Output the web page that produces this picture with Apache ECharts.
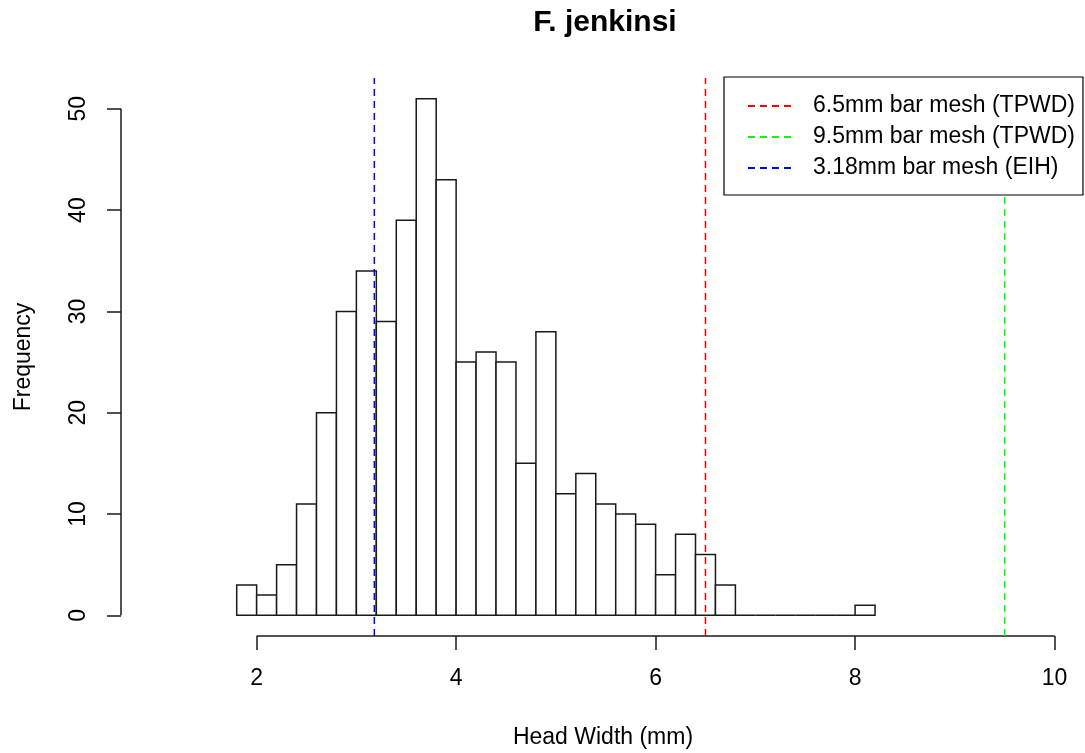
<!DOCTYPE html>
<html>
<head>
<meta charset="utf-8">
<script src="https://cdn.jsdelivr.net/npm/echarts@6/dist/echarts.min.js"></script>
<style>
html,body{margin:0;padding:0;background:#fff;}
#chart{width:1085px;height:753px;}
</style>
</head>
<body>
<div id="chart"></div>
<script>
// ---- data ----
const binEdges = [1.8, 2.0, 2.2, 2.4, 2.6, 2.8, 3.0, 3.2, 3.4, 3.6, 3.8, 4.0, 4.2, 4.4, 4.6, 4.8, 5.0,
                  5.2, 5.4, 5.6, 5.8, 6.0, 6.2, 6.4, 6.6, 6.8, 7.0, 7.2, 7.4, 7.6, 7.8, 8.0, 8.2];
const counts = [3, 2, 5, 11, 20, 30, 34, 29, 39, 51, 43, 25, 26, 25, 15, 28,
                12, 14, 11, 10, 9, 4, 8, 6, 3, 0, 0, 0, 0, 0, 0, 1];
const xTicks = [2, 4, 6, 8, 10];
const yTicks = [0, 10, 20, 30, 40, 50];
const meshNames = ['6.5mm bar mesh (TPWD)', '9.5mm bar mesh (TPWD)', '3.18mm bar mesh (EIH)'];
const meshSizes = [6.5, 9.5, 3.18];
const meshColors = ['#ff0000', '#00ff00', '#0000ff'];

// axis limits (R-style extension; right side cut at the picture edge)
const xMin = 0.64, xMax = 10.305;
const yMin = -2.04, yMax = 53.04;

const FONT = "'Liberation Sans', Arial, sans-serif";
const INK = '#1a1a1a';

const histData = counts.map((c, i) => [binEdges[i], binEdges[i + 1], c]);

const series = [
  {
    type: 'custom',
    name: 'hist',
    silent: true,
    clip: false,
    encode: { x: [0, 1], y: 2 },
    data: histData,
    renderItem: function (params, api) {
      const p0 = api.coord([api.value(0), 0]);
      const p1 = api.coord([api.value(1), api.value(2)]);
      return {
        type: 'rect',
        shape: { x: p0[0], y: p1[1], width: p1[0] - p0[0], height: p0[1] - p1[1] },
        style: { fill: '#ffffff', stroke: INK, lineWidth: 1.5 }
      };
    }
  },
  // R-style axis lines spanning only the tick range
  {
    type: 'line', name: 'xaxisline', silent: true, clip: false, symbol: 'none',
    data: [[xTicks[0], yMin], [xTicks[xTicks.length - 1], yMin]],
    lineStyle: { color: INK, width: 1.5 }
  },
  {
    type: 'line', name: 'yaxisline', silent: true, clip: false, symbol: 'none',
    data: [[xMin, yTicks[0]], [xMin, yTicks[yTicks.length - 1]]],
    lineStyle: { color: INK, width: 1.5 }
  }
];
meshSizes.forEach((m, i) => {
  series.push({
    type: 'line', name: meshNames[i], silent: true, clip: false, symbol: 'none',
    data: [[m, yMin], [m, yMax]],
    lineStyle: { color: meshColors[i], width: 1.5, type: [7, 5] },
    itemStyle: { color: meshColors[i] }
  });
});

const chart = echarts.init(document.getElementById('chart'), null, { renderer: 'canvas' });
chart.setOption({
  animation: false,
  backgroundColor: '#ffffff',
  textStyle: { fontFamily: FONT },
  title: {
    text: 'F. jenkinsi',
    left: 600,
    top: 3,
    textAlign: 'center',
    textStyle: { fontFamily: FONT, fontSize: 30, fontWeight: 'bold', color: '#000' }
  },
  legend: {
    data: meshNames,
    orient: 'vertical',
    left: 724,
    top: 77,
    padding: [17, 8, 15, 23],
    itemGap: 7,
    itemWidth: 43,
    itemHeight: 14,
    backgroundColor: '#ffffff',
    borderColor: '#000',
    borderWidth: 1.2,
    borderRadius: 0,
    selectedMode: false,
    itemStyle: { color: 'rgba(0,0,0,0)', borderColor: 'rgba(0,0,0,0)', borderWidth: 0 },
    textStyle: { fontFamily: FONT, fontSize: 23, color: '#000', lineHeight: 24, padding: [0, 0, 0, 17] }
  },
  grid: { left: 121, top: 78, right: 0, height: 558, containLabel: false, outerBoundsMode: 'none' },
  xAxis: {
    type: 'value',
    min: xMin, max: xMax,
    name: 'Head Width (mm)',
    nameLocation: 'middle',
    nameGap: 90,
    nameTextStyle: { fontFamily: FONT, fontSize: 23, color: '#000' },
    axisLine: { show: false, onZero: false },
    splitLine: { show: false },
    axisTick: { show: true, length: 14, customValues: xTicks, lineStyle: { color: INK, width: 1.5 } },
    axisLabel: { customValues: xTicks, margin: 31, fontFamily: FONT, fontSize: 23, color: '#000',
                 formatter: v => String(v) }
  },
  yAxis: {
    type: 'value',
    min: yMin, max: yMax,
    name: 'Frequency',
    nameLocation: 'middle',
    nameGap: 86,
    nameRotate: 90,
    nameTextStyle: { fontFamily: FONT, fontSize: 23, color: '#000' },
    axisLine: { show: false, onZero: false },
    splitLine: { show: false },
    axisTick: { show: true, length: 14, customValues: yTicks, lineStyle: { color: INK, width: 1.5 } },
    axisLabel: { customValues: yTicks, rotate: 90, margin: 31, fontFamily: FONT, fontSize: 23, color: '#000',
                 formatter: v => String(v) }
  },
  series: series
});
</script>
</body>
</html>
